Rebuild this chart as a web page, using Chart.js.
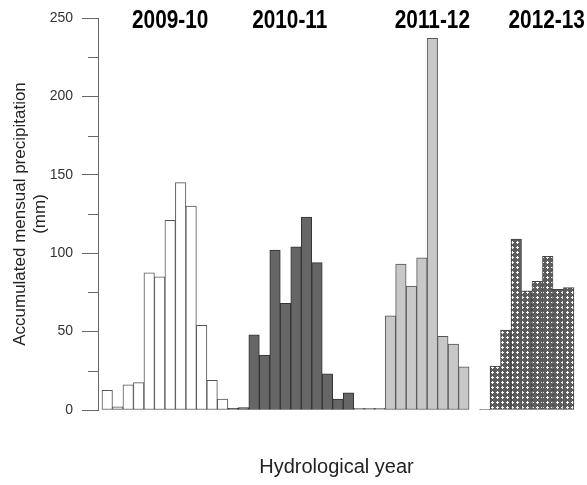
<!DOCTYPE html>
<html>
<head>
<meta charset="utf-8">
<script src="https://cdn.jsdelivr.net/npm/chart.js@4.4.1/dist/chart.umd.min.js"></script>
<style>
html, body { margin: 0; padding: 0; background: #fff; }
#divGraph { width: 587px; height: 485px; }
</style>
</head>
<body>
<div id="divGraph"><canvas id="canvGraph"></canvas></div>
<script>
// hydrological years (Oct - Sep), monthly accumulated precipitation in mm
var years = ['2009-10', '2010-11', '2011-12', '2012-13'];
var rain0910 = [12.5, 2, 16, 17.5, 87.5, 85, 121, 145, 130, 54, 19, 7];
var rain1011 = [1, 1.5, 48, 35, 102, 68, 104, 123, 94, 23, 7, 11];
var rain1112 = [1, 1, 1, 60, 93, 79, 97, 237, 47, 42, 27.5, 0];
var rain1213 = [0.5, 28, 51, 109, 76, 82, 98, 77, 78];

var fillColors = ['#ffffff', '#666666', '#c8c8c8', null];
var lineColors = ['#555555', '#333333', '#555555', '#444444'];

function buildPattern() {
    var c = document.createElement('canvas');
    c.width = 5;
    c.height = 5;
    var ctx = c.getContext('2d');
    ctx.fillStyle = '#5c5c5c';
    ctx.fillRect(0, 0, 5, 5);
    ctx.fillStyle = '#ffffff';
    ctx.fillRect(2, 1, 1, 3);
    ctx.fillRect(1, 2, 3, 1);
    return ctx.createPattern(c, 'repeat');
}

function buildDatasets() {
    var series = [rain0910, rain1011, rain1112, rain1213];
    var sets = [];
    var offset = 0;
    for (var s = 0; s < series.length; s++) {
        var pts = [];
        for (var i = 0; i < series[s].length; i++) {
            pts.push({x: offset + i, y: series[s][i]});
        }
        offset += series[s].length;
        sets.push({
            label: years[s],
            data: pts,
            backgroundColor: fillColors[s] || buildPattern(),
            borderColor: lineColors[s],
            borderWidth: 1,
            borderSkipped: false,
            grouped: false,
            barPercentage: 1,
            categoryPercentage: 1
        });
    }
    return sets;
}

// title anchor (in bar index units) for each year label
var yearAnchor = [6, 17.4, 31, 41.9];

var decorPlugin = {
    id: 'decor',
    afterDraw: function (chart) {
        var ctx = chart.ctx;
        var xs = chart.scales.x, ys = chart.scales.y;
        ctx.save();
        // minor ticks
        ctx.strokeStyle = '#666666';
        ctx.lineWidth = 1;
        for (var v = 25; v < 250; v += 50) {
            var py = Math.round(ys.getPixelForValue(v)) + 0.5;
            ctx.beginPath();
            ctx.moveTo(ys.right - 10, py);
            ctx.lineTo(ys.right, py);
            ctx.stroke();
        }
        // year labels, condensed bold
        ctx.fillStyle = '#000000';
        ctx.font = "bold 26px 'Liberation Sans', Arial, sans-serif";
        ctx.textAlign = 'center';
        ctx.textBaseline = 'middle';
        for (var i = 0; i < years.length; i++) {
            ctx.save();
            ctx.translate(xs.getPixelForValue(yearAnchor[i]), 21);
            ctx.scale(0.8, 1);
            ctx.fillText(years[i], 0, 0);
            ctx.restore();
        }
        ctx.restore();
    }
};

var _chart = new Chart(document.getElementById('canvGraph').getContext('2d'), {
    type: 'bar',
    data: {datasets: buildDatasets()},
    plugins: [decorPlugin],
    options: {
        responsive: true,
        maintainAspectRatio: false,
        animation: false,
        devicePixelRatio: 1,
        layout: {padding: {top: 18, right: 12, bottom: 6, left: 0}},
        plugins: {legend: {display: false}, tooltip: {enabled: false}},
        scales: {
            x: {
                type: 'linear',
                offset: false,
                min: -0.88,
                max: 44.6,
                ticks: {display: false},
                grid: {display: false, offset: false},
                border: {display: false},
                title: {
                    display: true,
                    text: 'Hydrological year',
                    color: '#222222',
                    font: {family: "'Liberation Sans', Arial, sans-serif", size: 20, lineHeight: 1.2},
                    padding: {top: 37, bottom: 0}
                }
            },
            y: {
                min: 0,
                max: 250,
                afterFit: function (scale) { scale.width = 98; },
                ticks: {
                    stepSize: 50,
                    padding: 9,
                    color: '#333333',
                    font: {family: "'Liberation Sans', Arial, sans-serif", size: 14}
                },
                grid: {display: true, drawOnChartArea: false, tickLength: 16, tickColor: '#666666'},
                border: {display: true, color: '#666666'},
                title: {
                    display: true,
                    text: ['Accumulated mensual precipitation', '(mm)'],
                    color: '#222222',
                    font: {family: "'Liberation Sans', Arial, sans-serif", size: 17, lineHeight: 1.2},
                    padding: {top: 10, bottom: 0}
                }
            }
        }
    }
});
</script>
</body>
</html>
